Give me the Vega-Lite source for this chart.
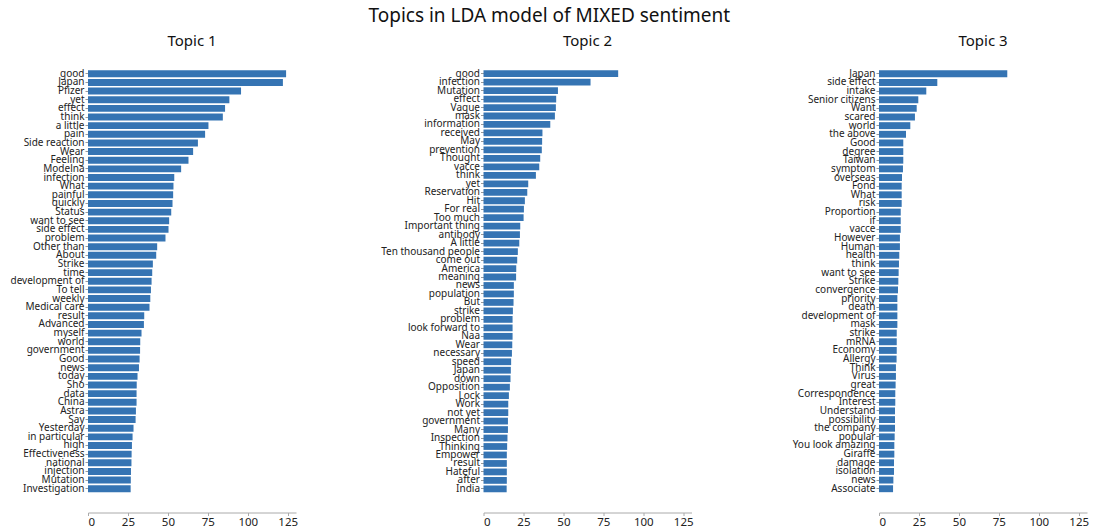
{
  "$schema": "https://vega.github.io/schema/vega-lite/v6.json",
  "padding": {"left": 10, "top": 7, "right": 2, "bottom": 0},
  "title": {"text": "Topics in LDA model of MIXED sentiment", "fontSize": 19, "font": "Noto Sans", "fontWeight": "normal", "anchor": "middle", "color": "#111", "offset": 8},
  "config": {
    "view": {"stroke": null},
    "font": "Noto Sans",
    "axisY": {"domain": false, "grid": false, "title": null, "tickSize": 3, "tickColor": "#999", "labelFontSize": 10, "labelColor": "#222", "labelPadding": 1, "labelFont": "Noto Sans"},
    "axisX": {"domain": true, "domainColor": "#aaa", "grid": false, "title": null, "tickSize": 3, "tickColor": "#aaa", "labelFontSize": 11.5, "labelColor": "#222", "labelFont": "Noto Sans", "labelPadding": 1, "offset": 16},
    "title": {"font": "Noto Sans", "fontWeight": "normal", "fontSize": 15, "color": "#111"}
  },
  "data": {"values": [
    {"topic": "Topic 1", "word": "good", "weight": 124},
    {"topic": "Topic 1", "word": "Japan", "weight": 122},
    {"topic": "Topic 1", "word": "Pfizer", "weight": 95.8},
    {"topic": "Topic 1", "word": "yet", "weight": 88.5},
    {"topic": "Topic 1", "word": "effect", "weight": 85.8},
    {"topic": "Topic 1", "word": "think", "weight": 84.4},
    {"topic": "Topic 1", "word": "a little", "weight": 75.4},
    {"topic": "Topic 1", "word": "pain", "weight": 73.3},
    {"topic": "Topic 1", "word": "Side reaction", "weight": 68.8},
    {"topic": "Topic 1", "word": "Wear", "weight": 65.8},
    {"topic": "Topic 1", "word": "Feeling", "weight": 62.9},
    {"topic": "Topic 1", "word": "Modelna", "weight": 58.3},
    {"topic": "Topic 1", "word": "infection", "weight": 54.0},
    {"topic": "Topic 1", "word": "What", "weight": 53.5},
    {"topic": "Topic 1", "word": "painful", "weight": 53.3},
    {"topic": "Topic 1", "word": "quickly", "weight": 52.9},
    {"topic": "Topic 1", "word": "Status", "weight": 52.1},
    {"topic": "Topic 1", "word": "want to see", "weight": 50.8},
    {"topic": "Topic 1", "word": "side effect", "weight": 50.4},
    {"topic": "Topic 1", "word": "problem", "weight": 48.5},
    {"topic": "Topic 1", "word": "Other than", "weight": 43.3},
    {"topic": "Topic 1", "word": "About", "weight": 42.7},
    {"topic": "Topic 1", "word": "Strike", "weight": 40.6},
    {"topic": "Topic 1", "word": "time", "weight": 40.2},
    {"topic": "Topic 1", "word": "development of", "weight": 39.8},
    {"topic": "Topic 1", "word": "To tell", "weight": 39.4},
    {"topic": "Topic 1", "word": "weekly", "weight": 39.0},
    {"topic": "Topic 1", "word": "Medical care", "weight": 38.5},
    {"topic": "Topic 1", "word": "result", "weight": 35.2},
    {"topic": "Topic 1", "word": "Advanced", "weight": 35.0},
    {"topic": "Topic 1", "word": "myself", "weight": 33.5},
    {"topic": "Topic 1", "word": "world", "weight": 32.7},
    {"topic": "Topic 1", "word": "government", "weight": 32.6},
    {"topic": "Topic 1", "word": "Good", "weight": 32.3},
    {"topic": "Topic 1", "word": "news", "weight": 31.9},
    {"topic": "Topic 1", "word": "today", "weight": 31.0},
    {"topic": "Topic 1", "word": "Sho", "weight": 30.5},
    {"topic": "Topic 1", "word": "data", "weight": 30.4},
    {"topic": "Topic 1", "word": "China", "weight": 30.4},
    {"topic": "Topic 1", "word": "Astra", "weight": 30.0},
    {"topic": "Topic 1", "word": "Say", "weight": 29.8},
    {"topic": "Topic 1", "word": "Yesterday", "weight": 28.5},
    {"topic": "Topic 1", "word": "in particular", "weight": 27.9},
    {"topic": "Topic 1", "word": "high", "weight": 27.5},
    {"topic": "Topic 1", "word": "Effectiveness", "weight": 27.3},
    {"topic": "Topic 1", "word": "national", "weight": 27.2},
    {"topic": "Topic 1", "word": "injection", "weight": 26.9},
    {"topic": "Topic 1", "word": "Mutation", "weight": 26.8},
    {"topic": "Topic 1", "word": "Investigation", "weight": 26.7},
    {"topic": "Topic 2", "word": "good", "weight": 84.3},
    {"topic": "Topic 2", "word": "infection", "weight": 67.0},
    {"topic": "Topic 2", "word": "Mutation", "weight": 46.6},
    {"topic": "Topic 2", "word": "effect", "weight": 45.5},
    {"topic": "Topic 2", "word": "Vague", "weight": 45.3},
    {"topic": "Topic 2", "word": "mask", "weight": 44.7},
    {"topic": "Topic 2", "word": "information", "weight": 41.8},
    {"topic": "Topic 2", "word": "received", "weight": 36.9},
    {"topic": "Topic 2", "word": "May", "weight": 36.7},
    {"topic": "Topic 2", "word": "prevention", "weight": 36.5},
    {"topic": "Topic 2", "word": "Thought", "weight": 35.5},
    {"topic": "Topic 2", "word": "vacce", "weight": 34.9},
    {"topic": "Topic 2", "word": "think", "weight": 32.8},
    {"topic": "Topic 2", "word": "yet", "weight": 28.0},
    {"topic": "Topic 2", "word": "Reservation", "weight": 27.4},
    {"topic": "Topic 2", "word": "Hit", "weight": 25.9},
    {"topic": "Topic 2", "word": "For real", "weight": 25.3},
    {"topic": "Topic 2", "word": "Too much", "weight": 25.1},
    {"topic": "Topic 2", "word": "Important thing", "weight": 23.0},
    {"topic": "Topic 2", "word": "antibody", "weight": 22.8},
    {"topic": "Topic 2", "word": "A little", "weight": 22.4},
    {"topic": "Topic 2", "word": "Ten thousand people", "weight": 21.5},
    {"topic": "Topic 2", "word": "come out", "weight": 21.1},
    {"topic": "Topic 2", "word": "America", "weight": 20.5},
    {"topic": "Topic 2", "word": "meaning", "weight": 20.4},
    {"topic": "Topic 2", "word": "news", "weight": 19.0},
    {"topic": "Topic 2", "word": "population", "weight": 19.0},
    {"topic": "Topic 2", "word": "But", "weight": 18.8},
    {"topic": "Topic 2", "word": "strike", "weight": 18.4},
    {"topic": "Topic 2", "word": "problem", "weight": 18.2},
    {"topic": "Topic 2", "word": "look forward to", "weight": 18.2},
    {"topic": "Topic 2", "word": "Naa", "weight": 18.2},
    {"topic": "Topic 2", "word": "Wear", "weight": 18.0},
    {"topic": "Topic 2", "word": "necessary", "weight": 17.8},
    {"topic": "Topic 2", "word": "speed", "weight": 17.3},
    {"topic": "Topic 2", "word": "Japan", "weight": 17.1},
    {"topic": "Topic 2", "word": "down", "weight": 16.9},
    {"topic": "Topic 2", "word": "Opposition", "weight": 16.5},
    {"topic": "Topic 2", "word": "Lock", "weight": 15.9},
    {"topic": "Topic 2", "word": "Work", "weight": 15.5},
    {"topic": "Topic 2", "word": "not yet", "weight": 15.5},
    {"topic": "Topic 2", "word": "government", "weight": 15.3},
    {"topic": "Topic 2", "word": "Many", "weight": 15.3},
    {"topic": "Topic 2", "word": "Inspection", "weight": 15.0},
    {"topic": "Topic 2", "word": "Thinking", "weight": 14.8},
    {"topic": "Topic 2", "word": "Empower", "weight": 14.6},
    {"topic": "Topic 2", "word": "result", "weight": 14.6},
    {"topic": "Topic 2", "word": "Hateful", "weight": 14.6},
    {"topic": "Topic 2", "word": "after", "weight": 14.6},
    {"topic": "Topic 2", "word": "India", "weight": 14.5},
    {"topic": "Topic 3", "word": "Japan", "weight": 80.3},
    {"topic": "Topic 3", "word": "side effect", "weight": 36.5},
    {"topic": "Topic 3", "word": "intake", "weight": 29.6},
    {"topic": "Topic 3", "word": "Senior citizens", "weight": 24.6},
    {"topic": "Topic 3", "word": "Want", "weight": 23.6},
    {"topic": "Topic 3", "word": "scared", "weight": 22.5},
    {"topic": "Topic 3", "word": "world", "weight": 19.6},
    {"topic": "Topic 3", "word": "the above", "weight": 16.9},
    {"topic": "Topic 3", "word": "Good", "weight": 15.2},
    {"topic": "Topic 3", "word": "degree", "weight": 15.2},
    {"topic": "Topic 3", "word": "Taiwan", "weight": 15.2},
    {"topic": "Topic 3", "word": "symptom", "weight": 15.0},
    {"topic": "Topic 3", "word": "overseas", "weight": 14.4},
    {"topic": "Topic 3", "word": "Fond", "weight": 14.2},
    {"topic": "Topic 3", "word": "What", "weight": 14.2},
    {"topic": "Topic 3", "word": "risk", "weight": 14.2},
    {"topic": "Topic 3", "word": "Proportion", "weight": 13.6},
    {"topic": "Topic 3", "word": "if", "weight": 13.6},
    {"topic": "Topic 3", "word": "vacce", "weight": 13.6},
    {"topic": "Topic 3", "word": "However", "weight": 13.1},
    {"topic": "Topic 3", "word": "Human", "weight": 13.1},
    {"topic": "Topic 3", "word": "health", "weight": 12.7},
    {"topic": "Topic 3", "word": "think", "weight": 12.5},
    {"topic": "Topic 3", "word": "want to see", "weight": 12.3},
    {"topic": "Topic 3", "word": "Strike", "weight": 12.1},
    {"topic": "Topic 3", "word": "convergence", "weight": 11.9},
    {"topic": "Topic 3", "word": "priority", "weight": 11.5},
    {"topic": "Topic 3", "word": "death", "weight": 11.5},
    {"topic": "Topic 3", "word": "development of", "weight": 11.5},
    {"topic": "Topic 3", "word": "mask", "weight": 11.5},
    {"topic": "Topic 3", "word": "strike", "weight": 11.1},
    {"topic": "Topic 3", "word": "mRNA", "weight": 11.1},
    {"topic": "Topic 3", "word": "Economy", "weight": 11.1},
    {"topic": "Topic 3", "word": "Allergy", "weight": 11.0},
    {"topic": "Topic 3", "word": "Think", "weight": 10.6},
    {"topic": "Topic 3", "word": "Virus", "weight": 10.6},
    {"topic": "Topic 3", "word": "great", "weight": 10.4},
    {"topic": "Topic 3", "word": "Correspondence", "weight": 10.2},
    {"topic": "Topic 3", "word": "Interest", "weight": 10.2},
    {"topic": "Topic 3", "word": "Understand", "weight": 10.0},
    {"topic": "Topic 3", "word": "possibility", "weight": 10.0},
    {"topic": "Topic 3", "word": "the company", "weight": 10.0},
    {"topic": "Topic 3", "word": "popular", "weight": 9.8},
    {"topic": "Topic 3", "word": "You look amazing", "weight": 9.6},
    {"topic": "Topic 3", "word": "Giraffe", "weight": 9.6},
    {"topic": "Topic 3", "word": "damage", "weight": 9.4},
    {"topic": "Topic 3", "word": "isolation", "weight": 9.4},
    {"topic": "Topic 3", "word": "news", "weight": 9.0},
    {"topic": "Topic 3", "word": "Associate", "weight": 8.8}
  ]},
  "bounds": "flush",
  "spacing": 187.5,
  "resolve": {"scale": {"y": "independent"}},
  "hconcat": [
    {
      "title": {"text": "Topic 1", "anchor": "middle", "offset": 17},
      "width": 208, "height": 430.5,
      "transform": [{"filter": "datum.topic === 'Topic 1'"}],
      "mark": {"type": "bar", "color": "#3574b3"},
      "encoding": {
        "y": {"field": "word", "type": "nominal", "sort": null, "scale": {"paddingInner": 0.2, "paddingOuter": 0.5}},
        "x": {"field": "weight", "type": "quantitative", "scale": {"domain": [0, 130.2], "nice": false}, "axis": {"values": [0, 25, 50, 75, 100, 125]}}
      }
    },
    {
      "title": {"text": "Topic 2", "anchor": "middle", "offset": 17},
      "width": 208, "height": 430.5,
      "transform": [{"filter": "datum.topic === 'Topic 2'"}],
      "mark": {"type": "bar", "color": "#3574b3"},
      "encoding": {
        "y": {"field": "word", "type": "nominal", "sort": null, "scale": {"paddingInner": 0.2, "paddingOuter": 0.5}},
        "x": {"field": "weight", "type": "quantitative", "scale": {"domain": [0, 130.2], "nice": false}, "axis": {"values": [0, 25, 50, 75, 100, 125]}}
      }
    },
    {
      "title": {"text": "Topic 3", "anchor": "middle", "offset": 17},
      "width": 208, "height": 430.5,
      "transform": [{"filter": "datum.topic === 'Topic 3'"}],
      "mark": {"type": "bar", "color": "#3574b3"},
      "encoding": {
        "y": {"field": "word", "type": "nominal", "sort": null, "scale": {"paddingInner": 0.2, "paddingOuter": 0.5}},
        "x": {"field": "weight", "type": "quantitative", "scale": {"domain": [0, 130.2], "nice": false}, "axis": {"values": [0, 25, 50, 75, 100, 125]}}
      }
    }
  ]
}
